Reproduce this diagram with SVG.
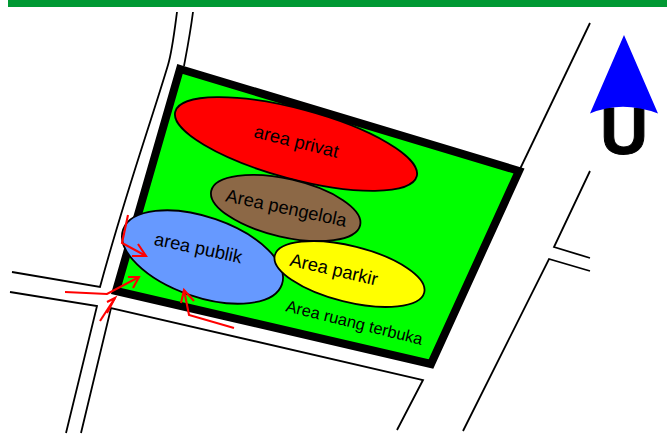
<svg xmlns="http://www.w3.org/2000/svg" width="667" height="434" viewBox="0 0 667 434">
<style>
.road{fill:none;stroke:#000;stroke-width:1.8}
.zone{stroke:#000;stroke-width:1.8}
.lbl{font-family:"Liberation Sans",Arial,sans-serif;fill:#000;font-size:18.300px;text-anchor:middle}
.flow{fill:none;stroke:#f00;stroke-width:2.100}
</style>
<rect width="667" height="434" fill="#fff"/>
<rect x="8" y="0" width="659" height="7" fill="#009933"/>
<g id="roads">
<path class="road" d="M177 12C174 35 172 52 168 65C150 125 125 195 100 287L12 272"/>
<path class="road" d="M193 12C190 35 187 50 184 66"/>
<path class="road" d="M10 292L97 306L66 433"/>
<path class="road" d="M81 433L111 308L423 380L397 430"/>
<path class="road" d="M590 23L520 169"/>
<path class="road" d="M590 171L554 247L590 258"/>
<path class="road" d="M590 271L549 259L463 431"/>
</g>
<g id="site"><polygon points="180,69 519,171 431,364 116,291" fill="#00ff00" stroke="#000" stroke-width="8"/></g>
<g id="area-privat"><ellipse class="zone" cx="296" cy="144" rx="125" ry="35" transform="rotate(15 296 144)" fill="#f00"/>
<text class="lbl" transform="translate(295 147.500) rotate(14)">area privat</text></g>
<g id="area-pengelola"><ellipse class="zone" cx="285.700" cy="208" rx="76.400" ry="29" transform="rotate(13 285.700 208)" fill="#8c6846"/>
<text class="lbl" transform="translate(285 214) rotate(12)">Area pengelola</text></g>
<g id="area-publik"><ellipse class="zone" cx="202.500" cy="257" rx="84" ry="40" transform="rotate(19 202.500 257)" fill="#6699ff"/>
<text class="lbl" transform="translate(197 254) rotate(12)">area publik</text></g>
<g id="area-parkir"><ellipse class="zone" cx="349.500" cy="274" rx="77" ry="28" transform="rotate(14 349.500 274)" fill="#ffff00"/>
<text class="lbl" transform="translate(332.500 275.500) rotate(13)">Area parkir</text></g>
<g id="area-terbuka"><text class="lbl" style="font-size:16.400px" transform="translate(353 328) rotate(14)">Area ruang terbuka</text></g>
<g id="connectors">
<path class="flow" d="M128 215L122 243L146 256"/><path class="flow" d="M138 244L146 256L132 256"/>
<path class="flow" d="M65 292L107 294L139 277"/><path class="flow" d="M128 277L139 277L133 288"/>
<path class="flow" d="M100 321L115 298"/><path class="flow" d="M107 302L115 298L107 313"/>
<path class="flow" d="M234 328L189 315L184 290"/><path class="flow" d="M181 303L184 290L194 301"/>
</g>
<g id="north">
<text x="624" y="154" style="font-family:'Liberation Sans',Arial,sans-serif;font-size:66px;font-weight:bold;text-anchor:middle;stroke:#000;stroke-width:1" fill="#000">U</text>
<path d="M624 35L590 113.500Q622 100 658 113.500Z" fill="#0000ff"/></g>
</svg>
